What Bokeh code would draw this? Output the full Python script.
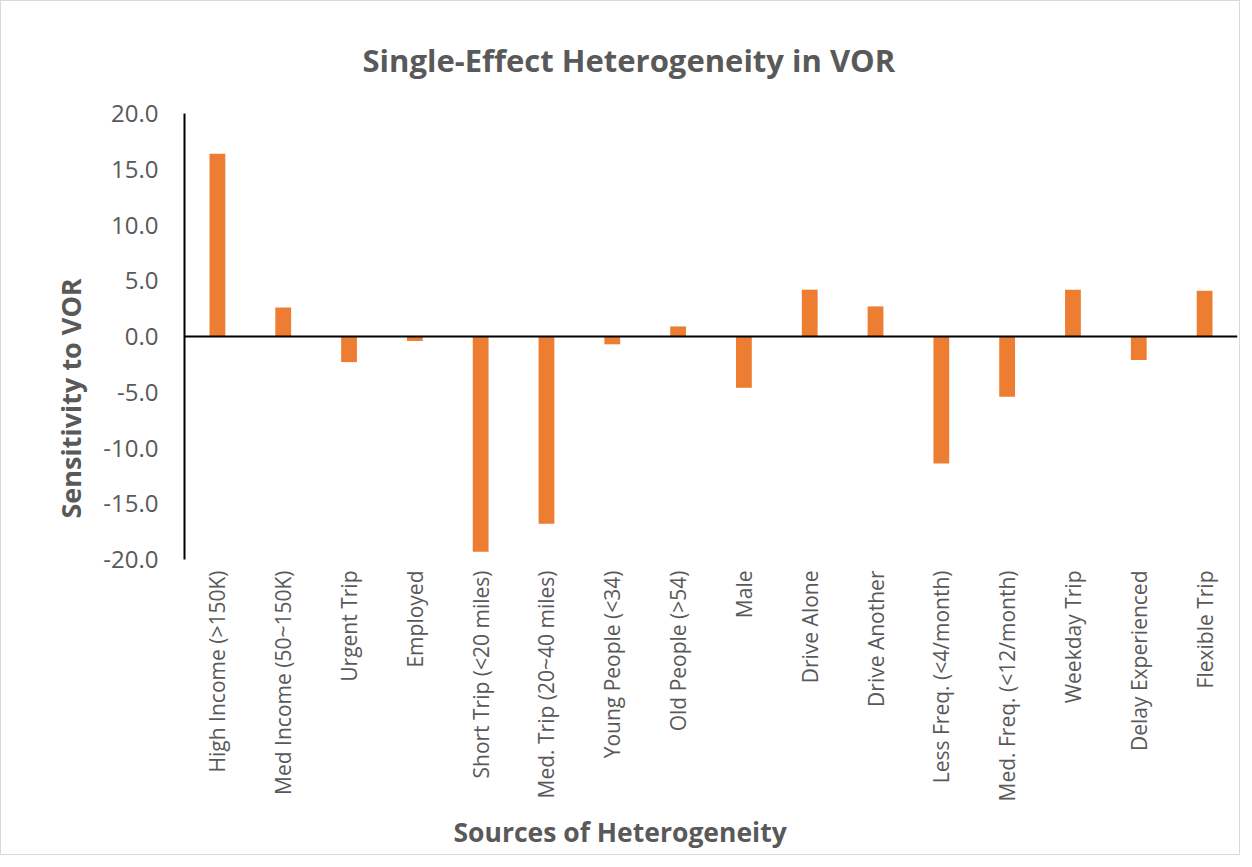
from bokeh.plotting import figure
from bokeh.models import (FactorRange, Range1d, FixedTicker, NumeralTickFormatter,
                          Span, Title, ColumnDataSource)
from bokeh.embed import file_html
from bokeh.resources import INLINE
import math

categories = ["High Income (>150K)", "Med Income (50~150K)", "Urgent Trip", "Employed",
              "Short Trip (<20 miles)", "Med. Trip (20~40 miles)", "Young People (<34)",
              "Old People (>54)", "Male", "Drive Alone", "Drive Another",
              "Less Freq. (<4/month)", "Med. Freq. (<12/month)", "Weekday Trip",
              "Delay Experienced", "Flexible Trip"]
values = [16.4, 2.6, -2.3, -0.4, -19.3, -16.8, -0.7, 0.9, -4.6, 4.2, 2.7,
          -11.4, -5.4, 4.2, -2.1, 4.1]
y_ticks = [-20, -15, -10, -5, 0, 5, 10, 15, 20]

TXT = "#595959"
FONT = "Open Sans"

p = figure(width=1240, height=855, output_backend="svg", toolbar_location=None,
           x_range=FactorRange(factors=categories, range_padding=0),
           y_range=Range1d(-20, 20),
           min_border_left=183, min_border_right=4, min_border_top=112,
           min_border_bottom=297)
p.title = None

src = ColumnDataSource(dict(cat=categories, val=values))
p.vbar(x="cat", top="val", bottom=0, width=0.24, source=src,
       fill_color="#ED7D31", line_color=None)

p.add_layout(Span(location=0, dimension="width", line_color="black", line_width=2))

p.xgrid.grid_line_color = None
p.ygrid.grid_line_color = None
p.outline_line_color = None

xa = p.xaxis[0]
xa.axis_line_color = None
xa.major_tick_line_color = None
xa.minor_tick_line_color = None
xa.major_label_orientation = math.pi / 2
xa.major_label_standoff = 5
xa.major_label_text_font = FONT
xa.major_label_text_font_size = "21px"
xa.major_label_text_color = TXT

ya = p.yaxis[0]
ya.ticker = FixedTicker(ticks=y_ticks)
ya.formatter = NumeralTickFormatter(format="0.0")
ya.axis_line_color = "black"
ya.axis_line_width = 2
ya.major_tick_line_color = None
ya.minor_tick_line_color = None
ya.major_label_standoff = 20
ya.major_label_text_font = FONT
ya.major_label_text_font_size = "24px"
ya.major_label_text_color = TXT

p.add_layout(Title(text="Single-Effect Heterogeneity in VOR", align="left", offset=178,
                   standoff=66, text_font=FONT, text_font_size="31px",
                   text_font_style="bold", text_color=TXT), "above")
p.add_layout(Title(text="Sources of Heterogeneity", align="left", offset=269,
                   standoff=14, text_font=FONT, text_font_size="26.5px",
                   text_font_style="bold", text_color=TXT), "below")
p.add_layout(Title(text="Sensitivity to VOR", align="left", offset=41,
                   standoff=23, text_font=FONT, text_font_size="27px",
                   text_font_style="bold", text_color=TXT), "left")

p.styles = {"border": "1px solid #D9D9D9"}

open("out.html", "w").write(file_html(p, INLINE))
